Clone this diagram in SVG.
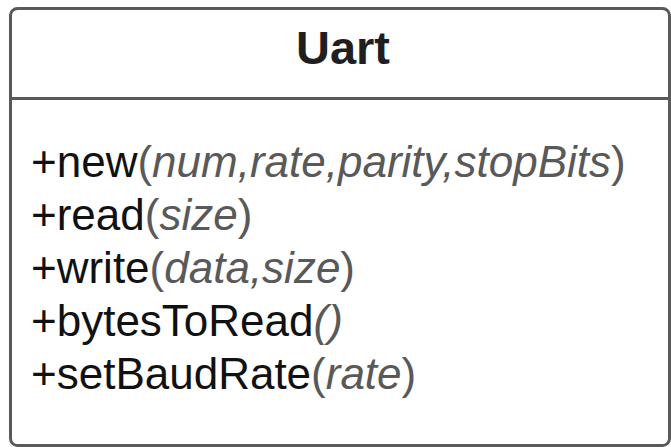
<svg xmlns="http://www.w3.org/2000/svg" width="671" height="447" viewBox="0 0 671 447">
  <style>
    .frame { fill: #ffffff; stroke: #5a5a5a; stroke-width: 3; }
    .divider { stroke: #5a5a5a; stroke-width: 3; }
    .title { font-family: "Liberation Sans", Arial, sans-serif; font-size: 47px; font-weight: bold; fill: #1f1f1f; }
    .op { font-family: "Liberation Sans", Arial, sans-serif; font-size: 44px; fill: #111111; }
    .args { fill: #595959; }
    .param { font-style: italic; }
  </style>
  <rect width="671" height="447" fill="#ffffff"/>
  <g id="class-Uart">
    <rect class="frame" x="10.5" y="8.5" width="659" height="437" rx="7" ry="7"/>
    <line class="divider" x1="10.5" y1="98.5" x2="669.5" y2="98.5"/>
    <text class="title" x="343" y="63.5" text-anchor="middle">Uart</text>
    <text class="op" x="31" y="177">+new<tspan class="args">(<tspan class="param">num,rate,parity,stopBits</tspan>)</tspan></text>
    <text class="op" x="31" y="230">+read<tspan class="args">(<tspan class="param">size</tspan>)</tspan></text>
    <text class="op" x="31" y="283">+write<tspan class="args">(<tspan class="param">data,size</tspan>)</tspan></text>
    <text class="op" x="31" y="336">+bytesToRead<tspan class="args param">()</tspan></text>
    <text class="op" x="31" y="389">+setBaudRate<tspan class="args">(<tspan class="param">rate</tspan>)</tspan></text>
  </g>
</svg>
